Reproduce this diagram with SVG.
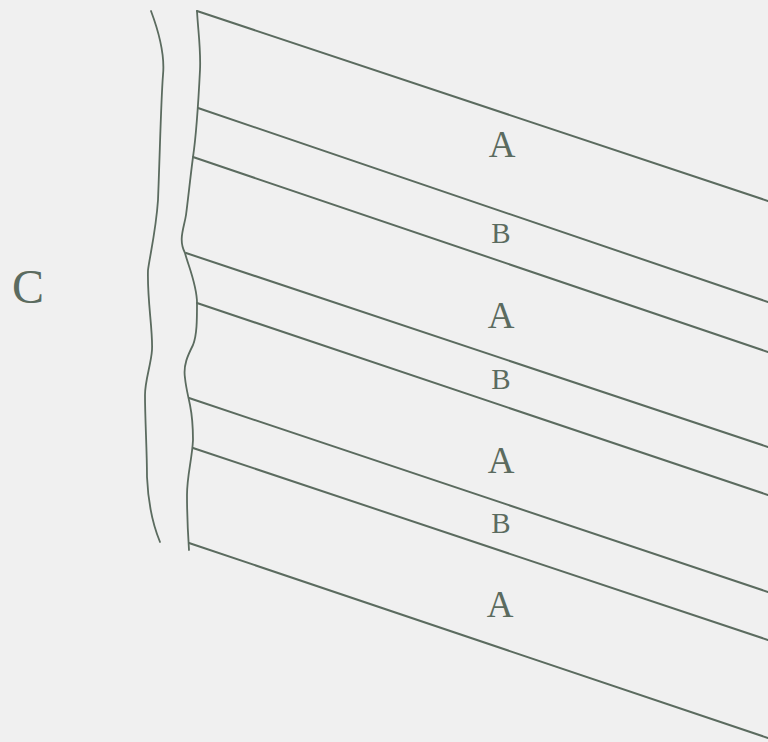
<svg xmlns="http://www.w3.org/2000/svg" width="768" height="742" viewBox="0 0 768 742">
<style>
.ln{fill:none;stroke:#5b6b5f;stroke-width:2;stroke-linecap:round;stroke-linejoin:round}
.bd{fill:none;stroke:#5b6b5f;stroke-width:1.8;stroke-linecap:round}
.t{font-family:"Liberation Serif","DejaVu Serif",serif;fill:#5b6b5f;text-anchor:middle}
.a{font-size:37px}
.b{font-size:29px}
</style>
<rect width="768" height="742" fill="#f0f0f0"/>
<g id="boundary-outer">
<path class="bd" d="M151,11 C160,35 165,55 163,75 C161,100 160,150 158,200 C156,230 150,255 148,270 C147,300 153,330 152,350 C151,365 145,380 145,395 C145,420 147,450 147,477 C148,500 153,525 160,542"/>
</g>
<g id="boundary-inner">
<path class="bd" d="M197,11 C198,30 201,50 200,70 C199,90 197,130 193,157 C190,180 188,200 186,215 C184,228 178,240 185,253 C188,265 197,285 197,303 C197,320 197,335 193,345 C188,355 183,365 185,378 C186,388 188,395 190,405 C192,415 193,425 193,440 C192,460 187,475 187,495 C187,515 188,535 189,550"/>
</g>
<g id="connectors">
<line class="ln" x1="197" y1="11" x2="768" y2="201"/>
<line class="ln" x1="198" y1="108" x2="768" y2="302"/>
<line class="ln" x1="193" y1="157" x2="768" y2="352"/>
<line class="ln" x1="186" y1="253" x2="768" y2="447"/>
<line class="ln" x1="197" y1="303" x2="768" y2="495"/>
<line class="ln" x1="189" y1="398" x2="768" y2="592"/>
<line class="ln" x1="193" y1="448" x2="768" y2="640"/>
<line class="ln" x1="189" y1="543" x2="768" y2="738"/>
</g>
<g id="label-C"><text class="t" x="28" y="303" font-size="48">C</text></g>
<g id="layer-1"><text class="t a" x="502" y="157">A</text></g>
<g id="layer-2"><text class="t b" x="501" y="243">B</text></g>
<g id="layer-3"><text class="t a" x="501" y="328">A</text></g>
<g id="layer-4"><text class="t b" x="501" y="389">B</text></g>
<g id="layer-5"><text class="t a" x="501" y="473">A</text></g>
<g id="layer-6"><text class="t b" x="501" y="533">B</text></g>
<g id="layer-7"><text class="t a" x="500" y="617">A</text></g>
</svg>
